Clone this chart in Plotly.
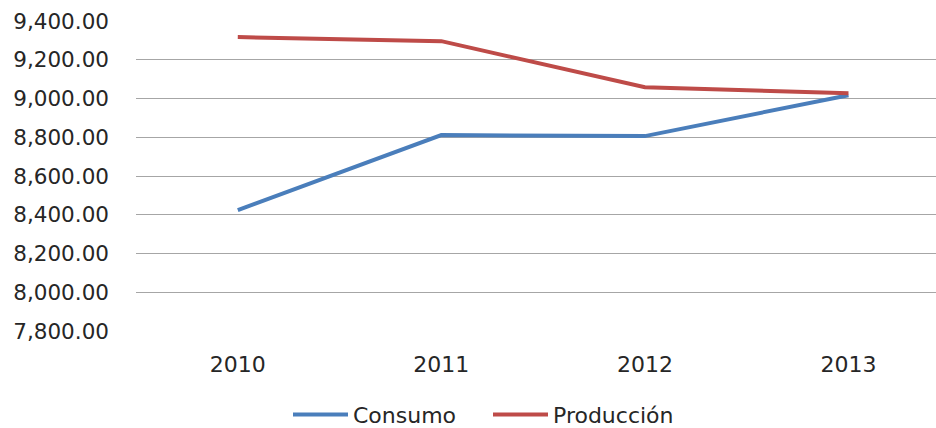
import plotly.graph_objects as go

years = ["2010", "2011", "2012", "2013"]
consumo = [8424, 8811, 8806, 9017]
produccion = [9317, 9296, 9058, 9027]
y_ticks = [7800, 8000, 8200, 8400, 8600, 8800, 9000, 9200, 9400]

fig = go.Figure()
fig.add_trace(go.Scatter(x=years, y=consumo, mode="lines", name="Consumo",
                         line=dict(color="#4A7EBB", width=4)))
fig.add_trace(go.Scatter(x=years, y=produccion, mode="lines", name="Producción",
                         line=dict(color="#BE4B48", width=4)))

fig.update_layout(
    width=936, height=428,
    margin=dict(l=136, r=0, t=21, b=97, autoexpand=False),
    paper_bgcolor="white", plot_bgcolor="white",
    font=dict(family="DejaVu Sans", size=21, color="#262626"),
    showlegend=True,
    legend=dict(orientation="h", x=0.44, xanchor="center", y=-0.27, yanchor="middle",
                font=dict(size=22), bgcolor="rgba(0,0,0,0)", traceorder="normal",
                itemwidth=55, entrywidth=130),
    xaxis=dict(type="category", range=[-0.5, 3.43], showgrid=False, showline=False,
               ticks="", tickfont=dict(size=22), ticklabelstandoff=18),
    yaxis=dict(range=[7800, 9400], tickvals=y_ticks,
               ticktext=[f"{v:,.2f}" for v in y_ticks],
               showgrid=True, gridcolor="#A6A6A6", gridwidth=1,
               zeroline=False, showline=False, ticks="",
               tickfont=dict(size=21.5), ticklabelstandoff=26),
)
fig.write_html("out.html")
